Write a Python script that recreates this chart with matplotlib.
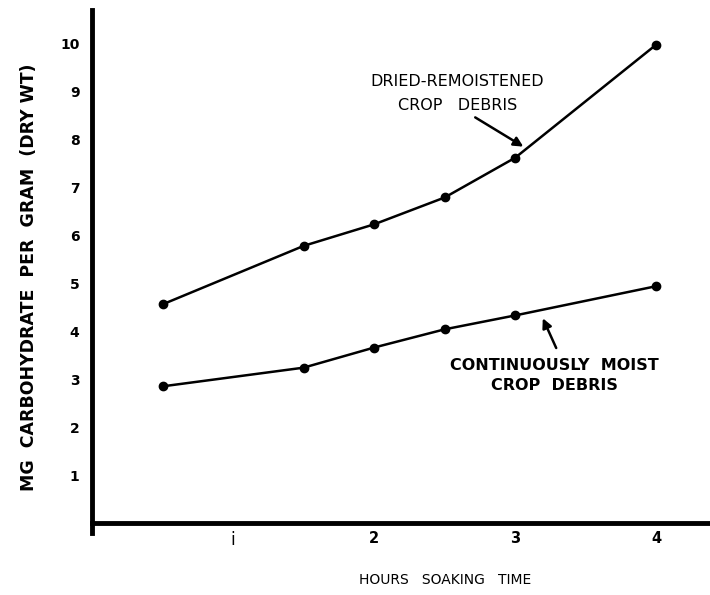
import matplotlib
matplotlib.use("Agg")
import matplotlib.pyplot as plt

# hours of soaking and mg carbohydrate per gram (dry wt)
hours = [0.5, 1.5, 2.0, 2.5, 3.0, 4.0]
dried_remoistened = [4.56, 5.78, 6.23, 6.79, 7.62, 9.98]
continuously_moist = [2.85, 3.24, 3.66, 4.04, 4.33, 4.94]

x_ticks = [1, 2, 3, 4]
x_tick_labels = ["i", "2", "3", "4"]
y_ticks = [1, 2, 3, 4, 5, 6, 7, 8, 9, 10]

fig = plt.figure(figsize=(7.10, 5.95), dpi=100)
ax = fig.add_axes([92 / 710, 0.1049, 1 - 92 / 710, 0.8783])

ax.plot(hours, dried_remoistened, color="black", lw=1.8, marker="o", ms=6)
ax.plot(hours, continuously_moist, color="black", lw=1.8, marker="o", ms=6)

ax.set_xlim(0, 4.38)
ax.set_ylim(-0.2, 10.7)

for side in ("top", "right"):
    ax.spines[side].set_visible(False)
ax.spines["left"].set_linewidth(3.5)
ax.spines["bottom"].set_linewidth(3.5)
ax.spines["bottom"].set_position(("data", 0))

ax.set_yticks(y_ticks)
ax.set_yticklabels([str(v) for v in y_ticks], fontsize=10, fontweight="bold")
ax.set_xticks(x_ticks)
ax.set_xticklabels(x_tick_labels, fontsize=10.5, fontweight="bold")
first = ax.get_xticklabels()[0]
first.set_fontweight("normal")
first.set_fontsize(12)
ax.tick_params(axis="y", length=0, pad=9)
ax.tick_params(axis="x", length=0, pad=6)

fig.text(29 / 710, 0.534, "MG  CARBOHYDRATE  PER  GRAM  (DRY WT)",
         rotation=90, ha="center", va="center", fontsize=12.5, fontweight="bold")
fig.text(445 / 710, 15 / 595, "HOURS   SOAKING   TIME",
         ha="center", va="center", fontsize=10)

# curve labels
ax.text(2.59, 8.95, "DRIED-REMOISTENED\nCROP   DEBRIS", ha="center", va="center",
        fontsize=11.5, linespacing=1.75)
ax.annotate("", xy=(3.057, 7.85), xytext=(2.716, 8.46),
            arrowprops=dict(arrowstyle="-|>", color="black", lw=1.8,
                            shrinkA=0, shrinkB=0, mutation_scale=14))

ax.text(3.28, 3.08, "CONTINUOUSLY  MOIST\nCROP  DEBRIS", ha="center", va="center",
        fontsize=11.5, fontweight="heavy", linespacing=1.45)
ax.annotate("", xy=(3.195, 4.27), xytext=(3.29, 3.65),
            arrowprops=dict(arrowstyle="-|>", color="black", lw=1.8,
                            shrinkA=0, shrinkB=0, mutation_scale=14))

fig.savefig("out.png", dpi=100)
